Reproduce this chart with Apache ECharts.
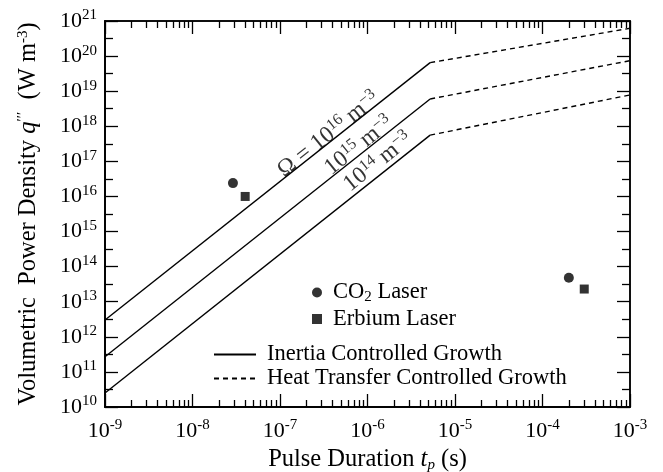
<!DOCTYPE html>
<html>
<head>
<meta charset="utf-8">
<script src="https://cdn.jsdelivr.net/npm/echarts@6/dist/echarts.min.js"></script>
<style>
  html, body { margin: 0; background: #fff; }
  #chart { width: 663px; height: 472px; }
</style>
</head>
<body>
<div id="chart"></div>
<script>
// axis ticks
const xDecades = [1e-9, 1e-8, 1e-7, 1e-6, 1e-5, 1e-4, 1e-3];
const xMinorSteps = [2, 3, 4, 5, 6, 7, 8, 9];
const yExponents = [10, 11, 12, 13, 14, 15, 16, 17, 18, 19, 20, 21];

// inertia controlled growth (solid), one per Omega
const inertia16 = [[1e-9, 3e12], [5.2e-6, 6.5e19]];
const inertia15 = [[1e-9, 2.7e11], [5.2e-6, 6e18]];
const inertia14 = [[1e-9, 2.5e10], [5.2e-6, 5.6e17]];

// heat transfer controlled growth (dashed)
const heat16 = [[5.2e-6, 6.5e19], [1e-3, 6.2e20]];
const heat15 = [[5.2e-6, 6e18], [1e-3, 7.4e19]];
const heat14 = [[5.2e-6, 5.6e17], [1e-3, 7.8e18]];

// lasers
const co2Laser = [[2.9e-8, 2.4e16], [2e-4, 4.8e13]];
const erbiumLaser = [[4e-8, 1e16], [3e-4, 2.3e13]];

// line annotations
const omegaLabels = [
  { pos: [3.6e-7, 5.8e17], text: '{n|Ω = 10}{sup|16}{n| m}{sup|−3}' },
  { pos: [8e-7, 2.8e17], text: '{n|10}{sup|15}{n| m}{sup|−3}' },
  { pos: [1.32e-6, 9.6e16], text: '{n|10}{sup|14}{n| m}{sup|−3}' }
];

const FONT = '"Liberation Serif", "DejaVu Serif", serif';

// log10 of the top value can come out a hair above the axis max, pull it in
const inside = (arr) => arr.map((v, i) => i === arr.length - 1 ? v * (1 - 1e-9) : v);

const xLabelVals = inside(xDecades);
const yLabelVals = inside(yExponents.map(e => Math.pow(10, e)));

// tick positions in decade units, drawn on value axes spanning the same decades
const xMajorExp = xDecades.map(d => Math.round(Math.log10(d)));
const xMinorExp = [];
xMajorExp.slice(0, -1).forEach(e => xMinorSteps.forEach(k => xMinorExp.push(e + Math.log10(k))));
const yHalfExp = yExponents.slice(0, -1).map(e => e + 0.5);

const rich = {
  n: { fontFamily: FONT, fontSize: 22, lineHeight: 26, color: '#000' },
  t: { fontFamily: FONT, fontSize: 24.5, lineHeight: 26, color: '#000' },
  i: { fontFamily: FONT, fontSize: 24.5, lineHeight: 26, fontStyle: 'italic', color: '#000' },
  sup: { fontFamily: FONT, fontSize: 15, lineHeight: 14, verticalAlign: 'top', color: '#000' },
  sub: { fontFamily: FONT, fontSize: 15, lineHeight: 14, verticalAlign: 'bottom', color: '#000' },
  isub: { fontFamily: FONT, fontSize: 15, lineHeight: 14, verticalAlign: 'bottom', fontStyle: 'italic', color: '#000' },
  g: { width: 6 }
};
const lineLabelRich = {
  n: { fontFamily: FONT, fontSize: 23.5, lineHeight: 27, color: '#000' },
  sup: { fontFamily: FONT, fontSize: 16, lineHeight: 15, verticalAlign: 'top', color: '#000' }
};

const powLabel = v => '{n|10}{sup|' + Math.round(Math.log10(v)) + '}';

function tickAxis(pos, min, max, ticks, len) {
  return {
    type: 'value', position: pos, min: min, max: max, interval: 1,
    axisLine: { show: true, lineStyle: { color: '#000', width: 1.5 } },
    splitLine: { show: false },
    axisLabel: { show: false },
    axisTick: { show: true, inside: true, length: len, customValues: ticks,
                lineStyle: { color: '#000', width: 1.3 } }
  };
}

const xAxes = [
  {
    type: 'log', position: 'bottom', min: 1e-9, max: 1e-3,
    axisLine: { show: true, lineStyle: { color: '#000', width: 1.5 } },
    splitLine: { show: false },
    axisTick: { show: false },
    axisLabel: { show: true, customValues: xLabelVals, margin: 11, formatter: powLabel, rich: rich },
    name: '{t|Pulse Duration }{i|t}{isub|p}{t| (s)}',
    nameLocation: 'middle',
    nameGap: 30,
    nameTextStyle: { rich: rich }
  },
  tickAxis('bottom', -9, -3, xMajorExp, 13),
  tickAxis('bottom', -9, -3, xMinorExp, 7),
  tickAxis('top', -9, -3, xMajorExp, 13),
  tickAxis('top', -9, -3, xMinorExp, 7)
];

const yAxes = [
  {
    type: 'log', position: 'left', min: 1e10, max: 1e21,
    axisLine: { show: true, lineStyle: { color: '#000', width: 1.5 } },
    splitLine: { show: false },
    axisTick: { show: false },
    axisLabel: { show: true, customValues: yLabelVals, margin: 8, formatter: powLabel, rich: rich },
    name: '{t|Volumetric  Power Density }{i|q}{sup|′′′}{t|  (W m}{sup|-3}{t|)}',
    nameLocation: 'middle',
    nameRotate: 90,
    nameGap: 63,
    nameTextStyle: { rich: rich }
  },
  tickAxis('left', 10, 21, yExponents, 13),
  tickAxis('left', 10, 21, yHalfExp, 8),
  tickAxis('right', 10, 21, yExponents, 13),
  tickAxis('right', 10, 21, yHalfExp, 8)
];

const solid = { color: '#000', width: 1.4 };
const dashed = { color: '#000', width: 1.4, type: [5, 4] };

function lineSeries(name, data, style) {
  return { name: name, type: 'line', data: data, symbol: 'none', showSymbol: false,
           lineStyle: style, itemStyle: { color: '#000' }, silent: true };
}

const series = [
  lineSeries('Inertia Controlled Growth', inertia16, solid),
  lineSeries('Inertia Controlled Growth', inertia15, solid),
  lineSeries('Inertia Controlled Growth', inertia14, solid),
  lineSeries('Heat Transfer Controlled Growth', heat16, dashed),
  lineSeries('Heat Transfer Controlled Growth', heat15, dashed),
  lineSeries('Heat Transfer Controlled Growth', heat14, dashed),
  { name: 'CO2 Laser', type: 'scatter', data: co2Laser, symbol: 'circle', symbolSize: 10,
    itemStyle: { color: '#000' } },
  { name: 'Erbium Laser', type: 'scatter', data: erbiumLaser, symbol: 'rect', symbolSize: 9,
    itemStyle: { color: '#000' } }
];

omegaLabels.forEach(l => {
  series.push({
    type: 'scatter', data: [l.pos], symbolSize: 1, itemStyle: { color: 'rgba(0,0,0,0)' }, silent: true,
    label: { show: true, position: 'inside', rotate: 38.5, formatter: l.text, rich: lineLabelRich }
  });
});

const legendText = {
  'CO2 Laser': '{g|}{n|CO}{sub|2}{n| Laser}',
  'Erbium Laser': '{g|}{n|Erbium Laser}',
  'Inertia Controlled Growth': '{g|}{n|Inertia Controlled Growth}',
  'Heat Transfer Controlled Growth': '{g|}{n|Heat Transfer Controlled Growth}'
};
const legendRich = Object.assign({}, rich, {
  n: { fontFamily: FONT, fontSize: 22.5, lineHeight: 24, color: '#000' }
});

const chart = echarts.init(document.getElementById('chart'));
chart.setOption({
  animation: false,
  backgroundColor: '#fff',
  grid: { left: 105, right: 33, top: 21, bottom: 65, outerBoundsMode: 'none' },
  xAxis: xAxes,
  yAxis: yAxes,
  legend: [
    { data: ['CO2 Laser', 'Erbium Laser'], orient: 'vertical', left: 312, top: 281, padding: 0,
      itemWidth: 10, itemHeight: 10, itemGap: 3, selectedMode: false,
      formatter: n => legendText[n], textStyle: { rich: legendRich } },
    { data: ['Inertia Controlled Growth', 'Heat Transfer Controlled Growth'], orient: 'vertical',
      left: 213, top: 343, padding: 0, itemWidth: 42, itemHeight: 14, itemGap: 1, selectedMode: false,
      itemStyle: { color: 'rgba(0,0,0,0)', borderColor: 'rgba(0,0,0,0)', borderWidth: 0 },
      formatter: n => legendText[n], textStyle: { rich: legendRich } }
  ],
  series: series
});
</script>
</body>
</html>
